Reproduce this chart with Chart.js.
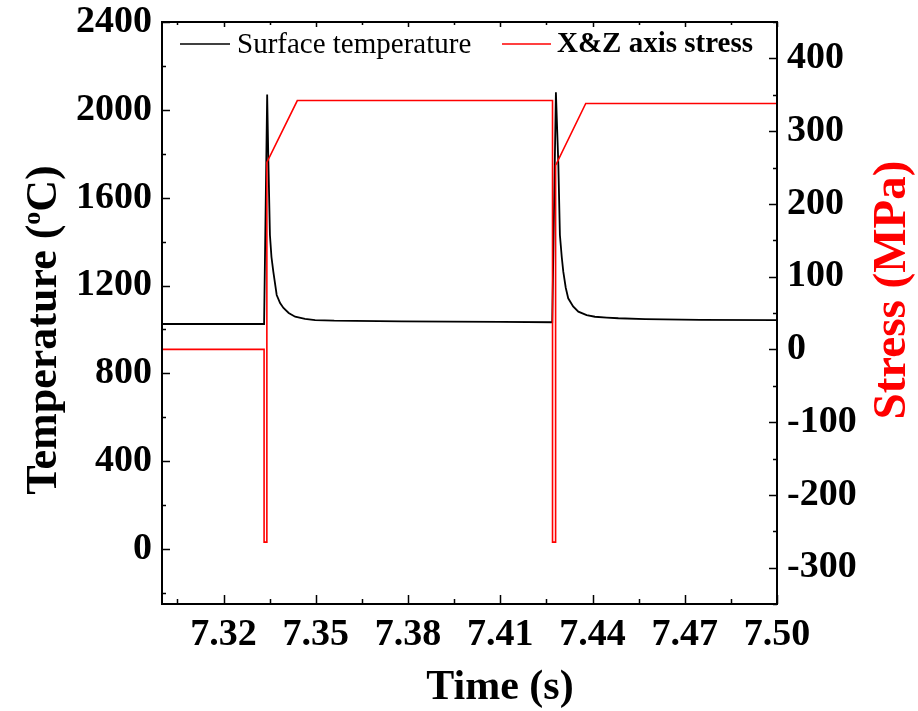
<!DOCTYPE html>
<html>
<head>
<meta charset="utf-8">
<script src="https://cdn.jsdelivr.net/npm/chart.js@4.4.0/dist/chart.umd.min.js"></script>
<style>
  html, body { margin: 0; padding: 0; background: #fff; }
  #wrap { width: 918px; height: 711px; }
</style>
</head>
<body>
<div id="wrap"><canvas id="chart" width="918" height="711"></canvas></div>
<script>
// Surface temperature (black): time (s) / temperature (°C)
const tempTime = [7.3000, 7.3332, 7.3342, 7.3346, 7.3351, 7.3356, 7.3362, 7.3373, 7.3384, 7.3395,
  7.3412, 7.3433, 7.3465, 7.3498, 7.3560, 7.3628, 7.3780, 7.3937, 7.4100, 7.4269,
  7.4281, 7.4289, 7.4294, 7.4300, 7.4305, 7.4313, 7.4321, 7.4337, 7.4354, 7.4381,
  7.4408, 7.4446, 7.4484, 7.4571, 7.4750, 7.5000];
const tempValues = [1025, 1025, 2070, 1764, 1430, 1330, 1263, 1157, 1120, 1098,
  1075, 1058, 1048, 1043, 1040, 1039, 1037, 1036, 1035, 1033,
  2080, 1749, 1430, 1330, 1263, 1190, 1142, 1105, 1081, 1065,
  1058, 1054, 1051, 1047, 1044, 1043];

// X&Z axis stress (red): time (s) / stress (MPa)
const stressTime = [7.3000, 7.3332, 7.3332, 7.3341, 7.3341, 7.3440, 7.4270, 7.4270, 7.4280, 7.4280, 7.4378, 7.5000];
const stressValues = [0, 0, -265, -265, 257, 342, 342, -265, -265, 253, 338, 338];

const timeTicks = [7.32, 7.35, 7.38, 7.41, 7.44, 7.47, 7.50];
const tempTicks = [0, 400, 800, 1200, 1600, 2000, 2400];
const stressTicks = [-300, -200, -100, 0, 100, 200, 300, 400];

const FONT = "'Liberation Serif', 'Times New Roman', serif";
const tickFont = { family: FONT, size: 38, weight: 'bold' };

const toPoints = (xs, ys) => xs.map((x, i) => ({ x: x, y: ys[i] }));

// fixed box sizes so the plot area sits where the original one does
const fixBox = (w, h) => s => {
  if (w) s.width = w;
  if (h) s.height = h;
  s.paddingTop = 0; s.paddingBottom = 0; s.paddingLeft = 0; s.paddingRight = 0;
};

// frame + inward major/minor ticks, titles, legend
const framePlugin = {
  id: 'frame',
  afterDatasetsDraw(chart) {
    const { ctx, chartArea: a, scales } = chart;
    ctx.save();
    ctx.strokeStyle = '#000';
    ctx.lineWidth = 1.5;
    ctx.beginPath();
    timeTicks.forEach(v => {
      [[v, 9, 5], [v - 0.015, 5, 3]].forEach(([t, lb, lt]) => {
        const px = Math.round(scales.x.getPixelForValue(t)) + 0.5;
        ctx.moveTo(px, a.bottom); ctx.lineTo(px, a.bottom - lb);
        ctx.moveTo(px, a.top); ctx.lineTo(px, a.top + lt);
      });
    });
    tempTicks.forEach(v => {
      [[v, 8], [v - 200, 4]].forEach(([t, l]) => {
        const py = Math.round(scales.yT.getPixelForValue(t)) + 0.5;
        ctx.moveTo(a.left, py); ctx.lineTo(a.left + l, py);
      });
    });
    stressTicks.concat([500]).forEach(v => {
      [[v, 8], [v - 50, 4]].forEach(([t, l]) => {
        if (t > 450) return;
        const py = Math.round(scales.yS.getPixelForValue(t)) + 0.5;
        ctx.moveTo(a.right, py); ctx.lineTo(a.right - l, py);
      });
    });
    ctx.stroke();
    ctx.lineWidth = 2;
    ctx.strokeRect(a.left, a.top, a.right - a.left, a.bottom - a.top);
    ctx.restore();
  },
  afterDraw(chart) {
    const { ctx } = chart;
    ctx.save();
    // legend
    ctx.lineWidth = 1.6;
    ctx.textBaseline = 'middle';
    ctx.strokeStyle = '#000';
    ctx.beginPath(); ctx.moveTo(180, 44); ctx.lineTo(230, 44); ctx.stroke();
    ctx.fillStyle = '#000';
    ctx.font = `29px ${FONT}`;
    ctx.fillText('Surface temperature', 237, 45);
    ctx.strokeStyle = '#ff0000';
    ctx.beginPath(); ctx.moveTo(502, 44); ctx.lineTo(551, 44); ctx.stroke();
    ctx.font = `bold 29px ${FONT}`;
    ctx.fillText('X&Z axis stress', 557, 45);

    // x title
    ctx.font = `bold 42px ${FONT}`;
    ctx.textAlign = 'center';
    ctx.fillText('Time (s)', 500, 688);

    // left title with superscript o
    ctx.save();
    ctx.translate(45, 330);
    ctx.rotate(-Math.PI / 2);
    const big = `bold 44px ${FONT}`, small = `bold 26px ${FONT}`;
    ctx.font = big; const w1 = ctx.measureText('Temperature (').width;
    ctx.font = small; const w2 = ctx.measureText('o').width;
    ctx.font = big; const w3 = ctx.measureText('C)').width;
    const x0 = -(w1 + w2 + w3) / 2;
    ctx.textAlign = 'left';
    ctx.font = big; ctx.fillText('Temperature (', x0, 0);
    ctx.font = small; ctx.fillText('o', x0 + w1, -12);
    ctx.font = big; ctx.fillText('C)', x0 + w1 + w2, 0);
    ctx.restore();

    // right title
    ctx.save();
    ctx.translate(893, 290);
    ctx.rotate(-Math.PI / 2);
    ctx.fillStyle = '#ff0000';
    ctx.textAlign = 'center';
    ctx.font = `bold 47px ${FONT}`;
    ctx.fillText('Stress (MPa)', 0, 0);
    ctx.restore();
    ctx.restore();
  }
};

new Chart(document.getElementById('chart'), {
  type: 'line',
  data: {
    datasets: [
      {
        label: 'Surface temperature',
        data: toPoints(tempTime, tempValues),
        yAxisID: 'yT',
        borderColor: '#000000',
        borderWidth: 1.8,
        pointRadius: 0,
        tension: 0,
        order: 2
      },
      {
        label: 'X&Z axis stress',
        data: toPoints(stressTime, stressValues),
        yAxisID: 'yS',
        borderColor: '#ff0000',
        borderWidth: 1.6,
        pointRadius: 0,
        tension: 0,
        order: 1
      }
    ]
  },
  options: {
    responsive: false,
    animation: false,
    devicePixelRatio: 1,
    layout: { padding: { top: 22, left: 0, right: 0, bottom: 0 } },
    plugins: { legend: { display: false }, tooltip: { enabled: false } },
    scales: {
      x: {
        type: 'linear',
        position: 'bottom',
        min: 7.30,
        max: 7.50,
        afterBuildTicks: s => { s.ticks = timeTicks.map(v => ({ value: v })); },
        afterFit: fixBox(0, 107),
        ticks: { callback: v => v.toFixed(2), font: tickFont, color: '#000', padding: 8, maxRotation: 0, autoSkip: false },
        grid: { display: false, drawTicks: false },
        border: { display: false }
      },
      yT: {
        type: 'linear',
        position: 'left',
        min: -250,
        max: 2400,
        afterBuildTicks: s => { s.ticks = tempTicks.map(v => ({ value: v })); },
        afterFit: fixBox(162, 0),
        ticks: { callback: v => String(v), font: tickFont, color: '#000', padding: 10 },
        grid: { display: false, drawTicks: false },
        border: { display: false }
      },
      yS: {
        type: 'linear',
        position: 'right',
        min: -350,
        max: 450,
        afterBuildTicks: s => { s.ticks = stressTicks.map(v => ({ value: v })); },
        afterFit: fixBox(141, 0),
        ticks: { callback: v => String(v), font: tickFont, color: '#000', padding: 10 },
        grid: { display: false, drawTicks: false },
        border: { display: false }
      }
    }
  },
  plugins: [framePlugin]
});
</script>
</body>
</html>
